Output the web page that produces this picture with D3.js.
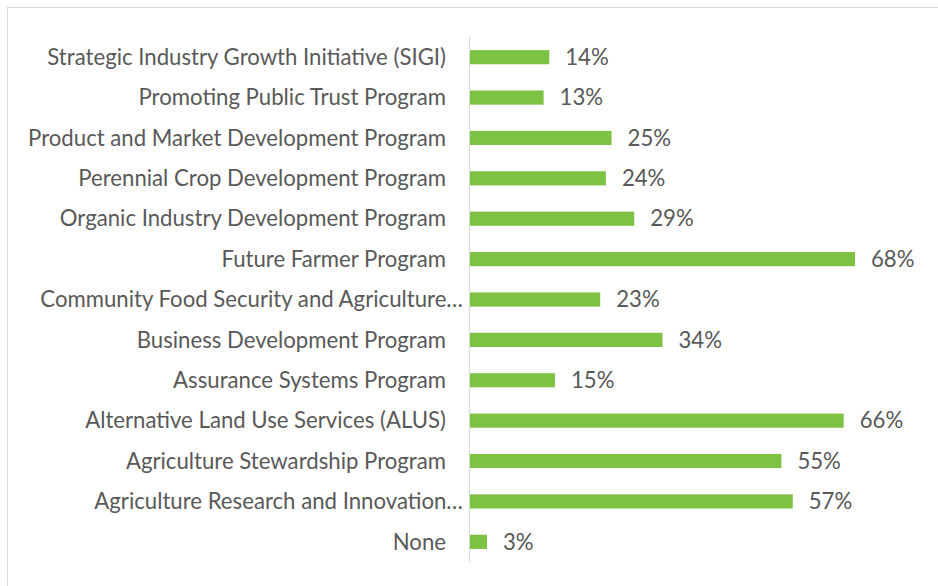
<!DOCTYPE html>
<html><head><meta charset="utf-8">
<script src="https://cdn.jsdelivr.net/npm/d3@7"></script>
<style>body{margin:0;background:#fff}svg{display:block}</style>
</head><body>
<svg id="c" width="938" height="586"></svg>
<script>
const categories = [
  "Strategic Industry Growth Initiative (SIGI)",
  "Promoting Public Trust Program",
  "Product and Market Development Program",
  "Perennial Crop Development Program",
  "Organic Industry Development Program",
  "Future Farmer Program",
  "Community Food Security and Agriculture…",
  "Business Development Program",
  "Assurance Systems Program",
  "Alternative Land Use Services (ALUS)",
  "Agriculture Stewardship Program",
  "Agriculture Research and Innovation…",
  "None"
];
const values = [14, 13, 25, 24, 29, 68, 23, 34, 15, 66, 55, 57, 3];
const valueLabels = ["14%","13%","25%","24%","29%","68%","23%","34%","15%","66%","55%","57%","3%"];

const svg = d3.select("#c");
const W = 938, H = 586;
const fontFam = "Lato, 'Noto Sans', sans-serif";
const textColor = "#595959";
const barColor = "#7DC242";

svg.append("rect").attr("x",7.5).attr("y",7.5).attr("width",W+20).attr("height",H+20)
  .attr("fill","#fff").attr("stroke","#d9d9d9").attr("stroke-width",1);

const x0 = 470;
const x = d3.scaleLinear().domain([0, 68]).range([x0, 855]);
const y = d3.scaleBand().domain(categories).range([37, 562]).paddingInner(0.65).paddingOuter(0.325);

// fit font size
const probe = svg.append("text").attr("font-family", fontFam).attr("font-size", 20).text(categories[0]);
const w20 = probe.node().getComputedTextLength();
probe.remove();
const fs = 20 * 399 / w20;

svg.append("g").selectAll("rect").data(categories).join("rect")
  .attr("x", x0).attr("y", d => y(d))
  .attr("width", (d,i) => x(values[i]) - x0)
  .attr("height", y.bandwidth())
  .attr("fill", barColor);

svg.append("line").attr("x1", x0-0.5).attr("x2", x0-0.5).attr("y1", 37).attr("y2", 562)
  .attr("stroke", "#d9d9d9").attr("stroke-width", 1);

svg.append("g").selectAll("text").data(categories).join("text")
  .attr("x", d => d.endsWith("…") ? 463 : 446)
  .attr("y", d => y(d) + y.bandwidth()/2)
  .attr("dy", "0.35em")
  .attr("text-anchor", "end")
  .attr("font-family", fontFam).attr("font-size", fs).attr("fill", textColor)
  .text(d => d);

svg.append("g").selectAll("text").data(categories).join("text")
  .attr("x", (d,i) => x(values[i]) + 16)
  .attr("y", d => y(d) + y.bandwidth()/2)
  .attr("dy", "0.35em")
  .attr("font-family", fontFam).attr("font-size", fs).attr("fill", textColor)
  .text((d,i) => valueLabels[i]);
</script>
</body></html>
